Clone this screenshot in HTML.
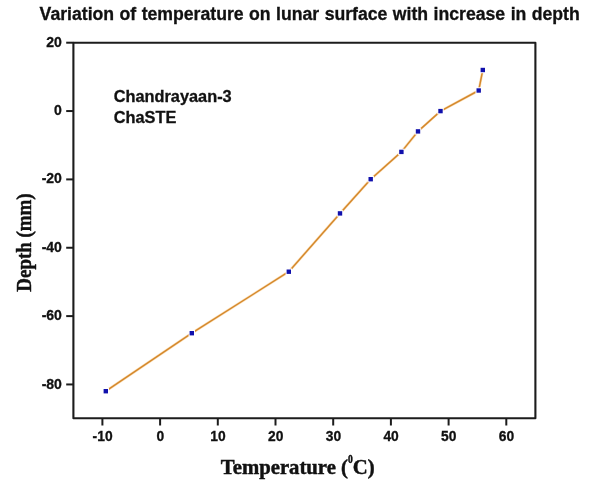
<!DOCTYPE html>
<html>
<head>
<meta charset="utf-8">
<title>Variation of temperature on lunar surface with increase in depth</title>
<style>
html,body{margin:0;padding:0;background:#fff;}
body{width:600px;height:492px;overflow:hidden;position:relative;}
svg{display:block;position:absolute;left:0;top:0;}
.sans{font-family:"Liberation Sans",Arial,Helvetica,sans-serif;font-weight:bold;fill:#111;stroke:#111;stroke-width:0.3px;}
.serif{font-family:"Liberation Serif","Times New Roman",Times,serif;font-weight:bold;fill:#111;}
</style>
</head>
<body>
<svg width="600" height="492" viewBox="0 0 600 492">
  <rect x="0" y="0" width="600" height="492" fill="#ffffff"/>
  <!-- title -->
  <text id="title" class="sans" x="39.6" y="20.1" font-size="17.65" word-spacing="0.55">Variation of temperature on lunar surface with increase in depth</text>

  <!-- plot frame -->
  <rect x="73.4" y="42.7" width="462.0" height="375.6" fill="none" stroke="#1c1c1c" stroke-width="2.1" stroke-linejoin="round"/>

  <!-- y ticks -->
  <g stroke="#1c1c1c" stroke-width="2.0">
    <line x1="66.2" x2="73.4" y1="42.7" y2="42.7"/>
    <line x1="66.2" x2="73.4" y1="111.05" y2="111.05"/>
    <line x1="66.2" x2="73.4" y1="179.40" y2="179.40"/>
    <line x1="66.2" x2="73.4" y1="247.75" y2="247.75"/>
    <line x1="66.2" x2="73.4" y1="316.10" y2="316.10"/>
    <line x1="66.2" x2="73.4" y1="384.45" y2="384.45"/>
  </g>
  <!-- x ticks -->
  <g stroke="#1c1c1c" stroke-width="2.0">
    <line y1="418.3" y2="425.5" x1="102.4" x2="102.4"/>
    <line y1="418.3" y2="425.5" x1="160.1" x2="160.1"/>
    <line y1="418.3" y2="425.5" x1="217.8" x2="217.8"/>
    <line y1="418.3" y2="425.5" x1="275.5" x2="275.5"/>
    <line y1="418.3" y2="425.5" x1="333.2" x2="333.2"/>
    <line y1="418.3" y2="425.5" x1="390.9" x2="390.9"/>
    <line y1="418.3" y2="425.5" x1="448.6" x2="448.6"/>
    <line y1="418.3" y2="425.5" x1="506.3" x2="506.3"/>
  </g>

  <!-- y tick labels -->
  <g class="sans" font-size="14" text-anchor="end">
    <text x="61.9" y="46.8">20</text>
    <text x="61.9" y="115.1">0</text>
    <text x="61.9" y="183.4">-20</text>
    <text x="61.9" y="251.8">-40</text>
    <text x="61.9" y="320.2">-60</text>
    <text x="61.9" y="388.5">-80</text>
  </g>
  <!-- x tick labels -->
  <g class="sans" font-size="13.8" text-anchor="middle">
    <text x="102.6" y="441">-10</text>
    <text x="160.3" y="441">0</text>
    <text x="218.0" y="441">10</text>
    <text x="275.7" y="441">20</text>
    <text x="333.4" y="441">30</text>
    <text x="391.1" y="441">40</text>
    <text x="448.8" y="441">50</text>
    <text x="506.5" y="441">60</text>
  </g>

  <!-- legend text -->
  <text class="sans" x="113.7" y="101.8" font-size="16.2" textLength="118" lengthAdjust="spacingAndGlyphs">Chandrayaan-3</text>
  <text class="sans" x="113.7" y="122.9" font-size="16.2" textLength="62.6" lengthAdjust="spacingAndGlyphs">ChaSTE</text>

  <!-- data line -->
  <polyline fill="none" stroke="#f8c27a" stroke-opacity="0.55" stroke-width="2.6" stroke-linejoin="round" points="105.8,391.2 191.8,333.2 288.8,271.7 340.0,213.4 370.7,179.2 401.4,151.9 418.0,131.4 440.5,111.1 478.7,90.5 482.8,70.0"/>
  <polyline fill="none" stroke="#d4882c" stroke-width="1.45" stroke-linejoin="round" points="105.8,391.2 191.8,333.2 288.8,271.7 340.0,213.4 370.7,179.2 401.4,151.9 418.0,131.4 440.5,111.1 478.7,90.5 482.8,70.0"/>
  <!-- markers -->
  <g fill="#ffffff">
    <rect x="102.6" y="388.0" width="6.4" height="6.4"/>
    <rect x="188.6" y="330.0" width="6.4" height="6.4"/>
    <rect x="285.6" y="268.5" width="6.4" height="6.4"/>
    <rect x="336.8" y="210.2" width="6.4" height="6.4"/>
    <rect x="367.5" y="176.0" width="6.4" height="6.4"/>
    <rect x="398.2" y="148.7" width="6.4" height="6.4"/>
    <rect x="414.8" y="128.2" width="6.4" height="6.4"/>
    <rect x="437.3" y="107.9" width="6.4" height="6.4"/>
    <rect x="475.5" y="87.3" width="6.4" height="6.4"/>
    <rect x="479.6" y="66.8" width="6.4" height="6.4"/>
  </g>
  <g fill="#1010ac">
    <rect x="103.6" y="389.0" width="4.4" height="4.4"/>
    <rect x="189.6" y="331.0" width="4.4" height="4.4"/>
    <rect x="286.6" y="269.5" width="4.4" height="4.4"/>
    <rect x="337.8" y="211.2" width="4.4" height="4.4"/>
    <rect x="368.5" y="177.0" width="4.4" height="4.4"/>
    <rect x="399.2" y="149.7" width="4.4" height="4.4"/>
    <rect x="415.8" y="129.2" width="4.4" height="4.4"/>
    <rect x="438.3" y="108.9" width="4.4" height="4.4"/>
    <rect x="476.5" y="88.3" width="4.4" height="4.4"/>
    <rect x="480.6" y="67.8" width="4.4" height="4.4"/>
  </g>

  <!-- axis titles -->
  <g transform="translate(220.8,474.3) scale(1.036,1)">
    <text class="serif" font-size="20" x="0" y="0" stroke="#111" stroke-width="0.45">Temperature (<tspan font-size="11.5" dy="-11.3" textLength="4.6" lengthAdjust="spacingAndGlyphs">0</tspan><tspan dy="11.3">C)</tspan></text>
  </g>
  <g transform="translate(31.1,291.7) rotate(-90) scale(0.948,1)">
    <text class="serif" font-size="20" x="0" y="0" stroke="#111" stroke-width="0.45">Depth (mm)</text>
  </g>
</svg>
</body>
</html>
